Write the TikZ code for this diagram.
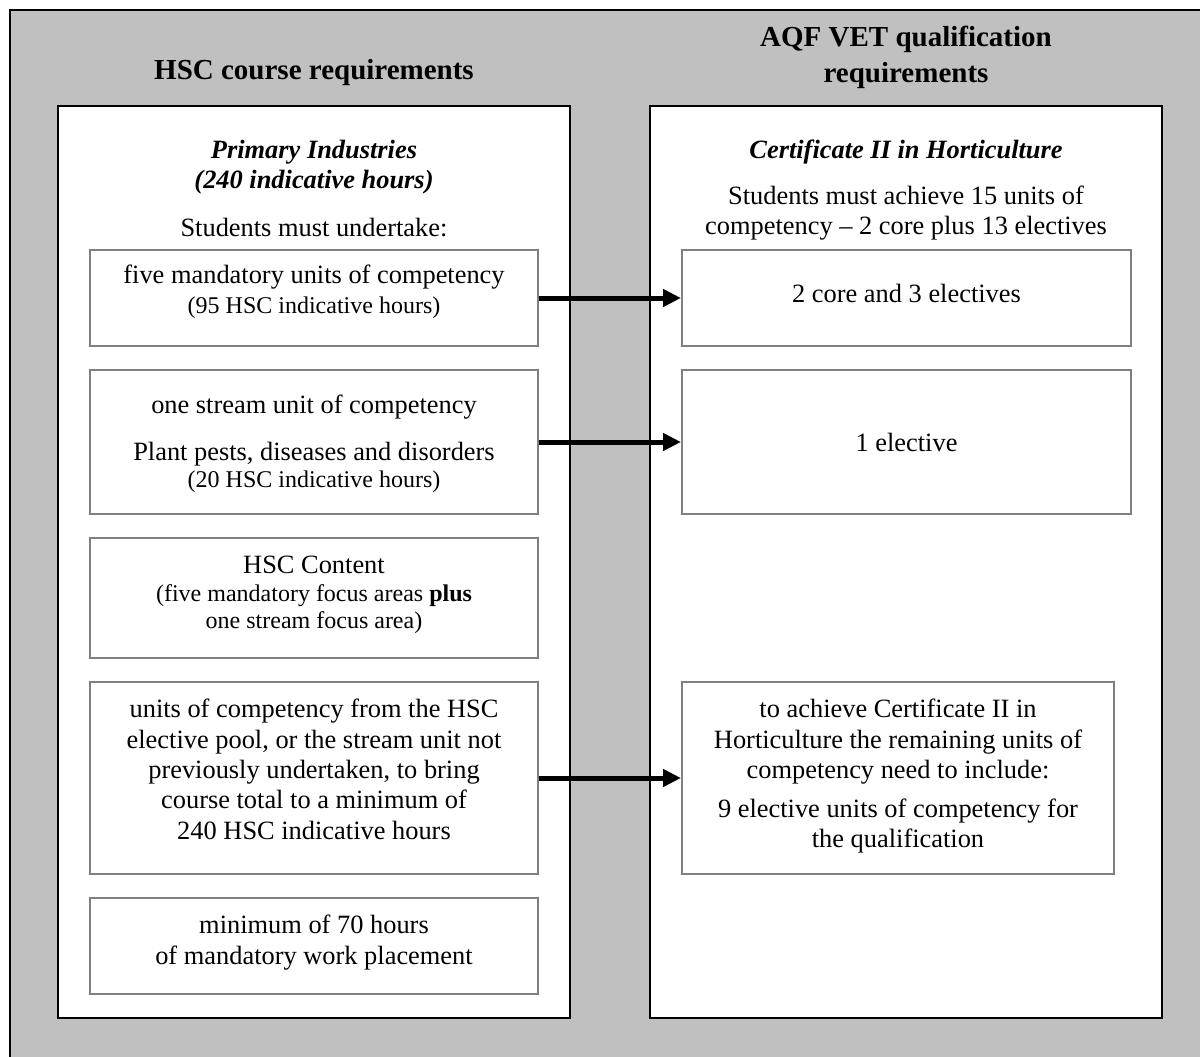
\documentclass[tikz,border=0pt]{standalone}
\usepackage{fontspec}
\setmainfont{Liberation Serif}
\usetikzlibrary{arrows.meta}
\definecolor{bggray}{HTML}{C0C0C0}
\definecolor{boxline}{HTML}{808080}
\begin{document}
\begin{tikzpicture}[x=1pt,y=-1pt,
  outer/.style={draw=black, line width=2pt, fill=bggray},
  panel/.style={draw=black, line width=2pt, fill=white, inner sep=0pt, minimum width=512pt, minimum height=912pt},
  ibox/.style={draw=boxline, line width=2pt, fill=white, inner sep=0pt},
  big/.style={font=\fontsize{26.4}{30.5}\selectfont, anchor=base, inner sep=0pt},
  small/.style={font=\fontsize{24}{29}\selectfont, anchor=base, inner sep=0pt},
  ttl/.style={font=\fontsize{29}{36}\selectfont\bfseries, anchor=base, inner sep=0pt},
  sub/.style={font=\fontsize{26.4}{30}\selectfont\bfseries\itshape, anchor=base, inner sep=0pt},
  arr/.style={line width=5pt, -{Triangle[length=18pt,width=17pt]}}
]
\useasboundingbox (0,0) rectangle (1200,1057);
\clip (0,0) rectangle (1200,1057);
\draw[outer] (10,10) rectangle (1215,1072);

% titles
\node[ttl] (tl) at (314,80) {HSC course requirements};
\node[ttl] (tr1) at (906,47) {AQF VET qualification};
\node[ttl] (tr2) at (906,83) {requirements};

% panels
\node[panel] (pl) at (314,562) {};
\node[panel] (pr) at (906,562) {};

% left panel header
\node[sub] (pi1) at (314,158) {Primary Industries};
\node[sub] (pi2) at (314,188) {(240 indicative hours)};
\node[big] (smu) at (314,236) {Students must undertake:};

% right panel header
\node[sub] (ch) at (906,158) {Certificate II in Horticulture};
\node[big] (sa1) at (906,204) {Students must achieve 15 units of};
\node[big] (sa2) at (906,234) {competency -- 2 core plus 13 electives};

% left boxes
\node[ibox, minimum width=448pt, minimum height=96pt] (b1) at (314,298) {};
\node[ibox, minimum width=448pt, minimum height=144pt] (b2) at (314,442) {};
\node[ibox, minimum width=448pt, minimum height=120pt] (b3) at (314,598) {};
\node[ibox, minimum width=448pt, minimum height=192pt] (b4) at (314,778) {};
\node[ibox, minimum width=448pt, minimum height=96pt] (b5) at (314,946) {};

% right boxes
\node[ibox, minimum width=449pt, minimum height=96pt] (r1) at (906.5,298) {};
\node[ibox, minimum width=449pt, minimum height=144pt] (r2) at (906.5,442) {};
\node[ibox, minimum width=432pt, minimum height=192pt] (r3) at (898,778) {};

% box texts left
\node[big] (b1a) at (314,283) {five mandatory units of competency};
\node[small] (b1b) at (314,313) {(95 HSC indicative hours)};

\node[big] (b2a) at (314,413) {one stream unit of competency};
\node[big] (b2b) at (314,460) {Plant pests, diseases and disorders};
\node[small] (b2c) at (314,487) {(20 HSC indicative hours)};

\node[big] (b3a) at (314,573) {HSC Content};
\node[small] (b3b) at (314,601) {(five mandatory focus areas \textbf{plus}};
\node[small] (b3c) at (314,628) {one stream focus area)};

\node[big] (b4a) at (314,717) {units of competency from the HSC};
\node[big] (b4b) at (314,748) {elective pool, or the stream unit not};
\node[big] (b4c) at (314,778) {previously undertaken, to bring};
\node[big] (b4d) at (314,808) {course total to a minimum of};
\node[big] (b4e) at (314,839) {240 HSC indicative hours};

\node[big] (b5a) at (314,933) {minimum of 70 hours};
\node[big] (b5b) at (314,964) {of mandatory work placement};

% box texts right
\node[big] (r1a) at (906.5,302) {2 core and 3 electives};
\node[big] (r2a) at (906.5,451) {1 elective};

\node[big] (r3a) at (898,717) {to achieve Certificate II in};
\node[big] (r3b) at (898,748) {Horticulture the remaining units of};
\node[big] (r3c) at (898,778) {competency need to include:};
\node[big] (r3d) at (898,817) {9 elective units of competency for};
\node[big] (r3e) at (898,847) {the qualification};

% arrows
\draw[arr] (b1.east) -- (r1.west);
\draw[arr] (b2.east) -- (r2.west);
\draw[arr] (b4.east) -- (r3.west);
\end{tikzpicture}
\end{document}
